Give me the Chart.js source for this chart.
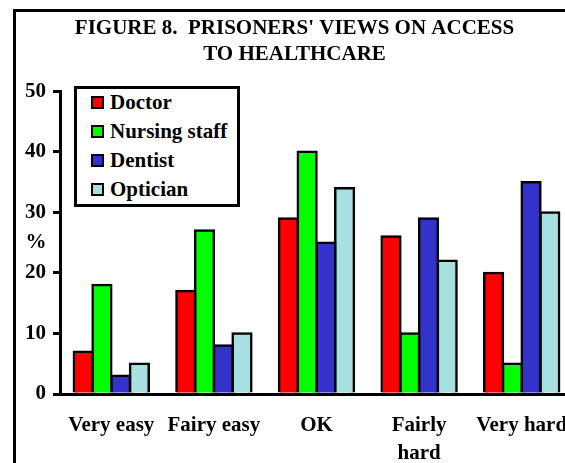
<!DOCTYPE html>
<html>
<head>
<meta charset="utf-8">
<script src="https://cdn.jsdelivr.net/npm/chart.js@4.4.0/dist/chart.umd.min.js"></script>
<style>
  html, body { margin: 0; padding: 0; background: #fff; overflow: hidden; width: 565px; height: 463px; }
  #frame { position: absolute; left: 13px; top: 9px; width: 620px; height: 520px; border: 3px solid #000; box-sizing: border-box; }
  #chart { position: absolute; left: 16px; top: 12px; }
  #legend { position: absolute; left: 74px; top: 86px; width: 166px; height: 121px; border: 3px solid #000;
            box-sizing: border-box; background: #fff; font: bold 21px "Liberation Serif", "Times New Roman", serif; }
  #legend .row { position: absolute; left: 14px; height: 29px; line-height: 29px; white-space: nowrap; color: #000; }
  #legend .sw { display: inline-block; width: 13px; height: 13px; border: 2px solid #000; box-sizing: border-box;
                vertical-align: middle; margin-right: 6px; position: relative; top: -2px; }
</style>
</head>
<body>
<div id="frame"></div>
<canvas id="chart" width="600" height="454"></canvas>
<div id="legend"></div>
<script>
var categories = ["Very easy", "Fairy easy", "OK", ["Fairly", "hard"], "Very hard"];
var seriesNames = ["Doctor", "Nursing staff", "Dentist", "Optician"];
var doctor = [7, 17, 29, 26, 20];
var nursingStaff = [18, 27, 40, 10, 5];
var dentist = [3, 8, 25, 29, 35];
var optician = [5, 10, 34, 22, 30];
var yTicks = [0, 10, 20, 30, 40, 50];
var barColors = ["#ff0000", "#00ff00", "#3333cc", "#a6e0e0"];

var serif = "'Liberation Serif', 'Times New Roman', serif";
var values = [doctor, nursingStaff, dentist, optician];

// "%" label drawn horizontally beside the y axis
var percentLabel = {
    id: "percentLabel",
    afterDraw: function (chart) {
        var ctx = chart.ctx;
        var y = chart.scales.y;
        ctx.save();
        ctx.font = "bold 21px " + serif;
        ctx.fillStyle = "#000";
        ctx.textAlign = "center";
        ctx.textBaseline = "middle";
        ctx.fillText("%", 20, (y.top + y.bottom) / 2);
        ctx.restore();
    }
};

var chart = new Chart("chart", {
    type: "bar",
    data: {
        labels: categories,
        datasets: seriesNames.map(function (name, i) {
            return {
                label: name,
                data: values[i],
                backgroundColor: barColors[i],
                borderColor: "#000",
                borderWidth: 2.5,
                inflateAmount: 1.25,
                categoryPercentage: 0.73,
                barPercentage: 1
            };
        })
    },
    options: {
        responsive: false,
        animation: false,
        layout: { padding: { left: 0, right: 43, top: 0, bottom: 0 } },
        plugins: {
            legend: { display: false },
            tooltip: { enabled: false },
            title: {
                display: true,
                text: ["FIGURE 8.  PRISONERS' VIEWS ON ACCESS", "TO HEALTHCARE"],
                color: "#000",
                font: { family: serif, size: 21, weight: "bold", lineHeight: 1.27 },
                padding: { top: 3, bottom: 23 }
            }
        },
        scales: {
            x: {
                afterFit: function (scale) { scale.height = 72; },
                grid: { display: false, drawTicks: false },
                border: { display: true, color: "#000", width: 3 },
                ticks: {
                    color: "#000",
                    font: { family: serif, size: 21, weight: "bold", lineHeight: 1.33 },
                    padding: 18,
                    maxRotation: 0,
                    autoSkip: false
                }
            },
            y: {
                min: 0,
                max: 50,
                afterFit: function (scale) { scale.width = 44; },
                afterBuildTicks: function (scale) {
                    scale.ticks = yTicks.map(function (v) { return { value: v }; });
                },
                grid: { drawOnChartArea: false, drawTicks: true, tickLength: 7, color: "#000", lineWidth: 3 },
                border: { display: true, color: "#000", width: 3 },
                ticks: {
                    color: "#000",
                    font: { family: serif, size: 21, weight: "bold" },
                    padding: 7
                }
            }
        }
    },
    plugins: [percentLabel]
});

// boxed legend, built from the datasets
var legend = document.getElementById("legend");
chart.data.datasets.forEach(function (ds, i) {
    var row = document.createElement("div");
    row.className = "row";
    row.style.top = (-1 + i * 29) + "px";
    var sw = document.createElement("span");
    sw.className = "sw";
    sw.style.background = ds.backgroundColor;
    row.appendChild(sw);
    row.appendChild(document.createTextNode(ds.label));
    legend.appendChild(row);
});
</script>
</body>
</html>
